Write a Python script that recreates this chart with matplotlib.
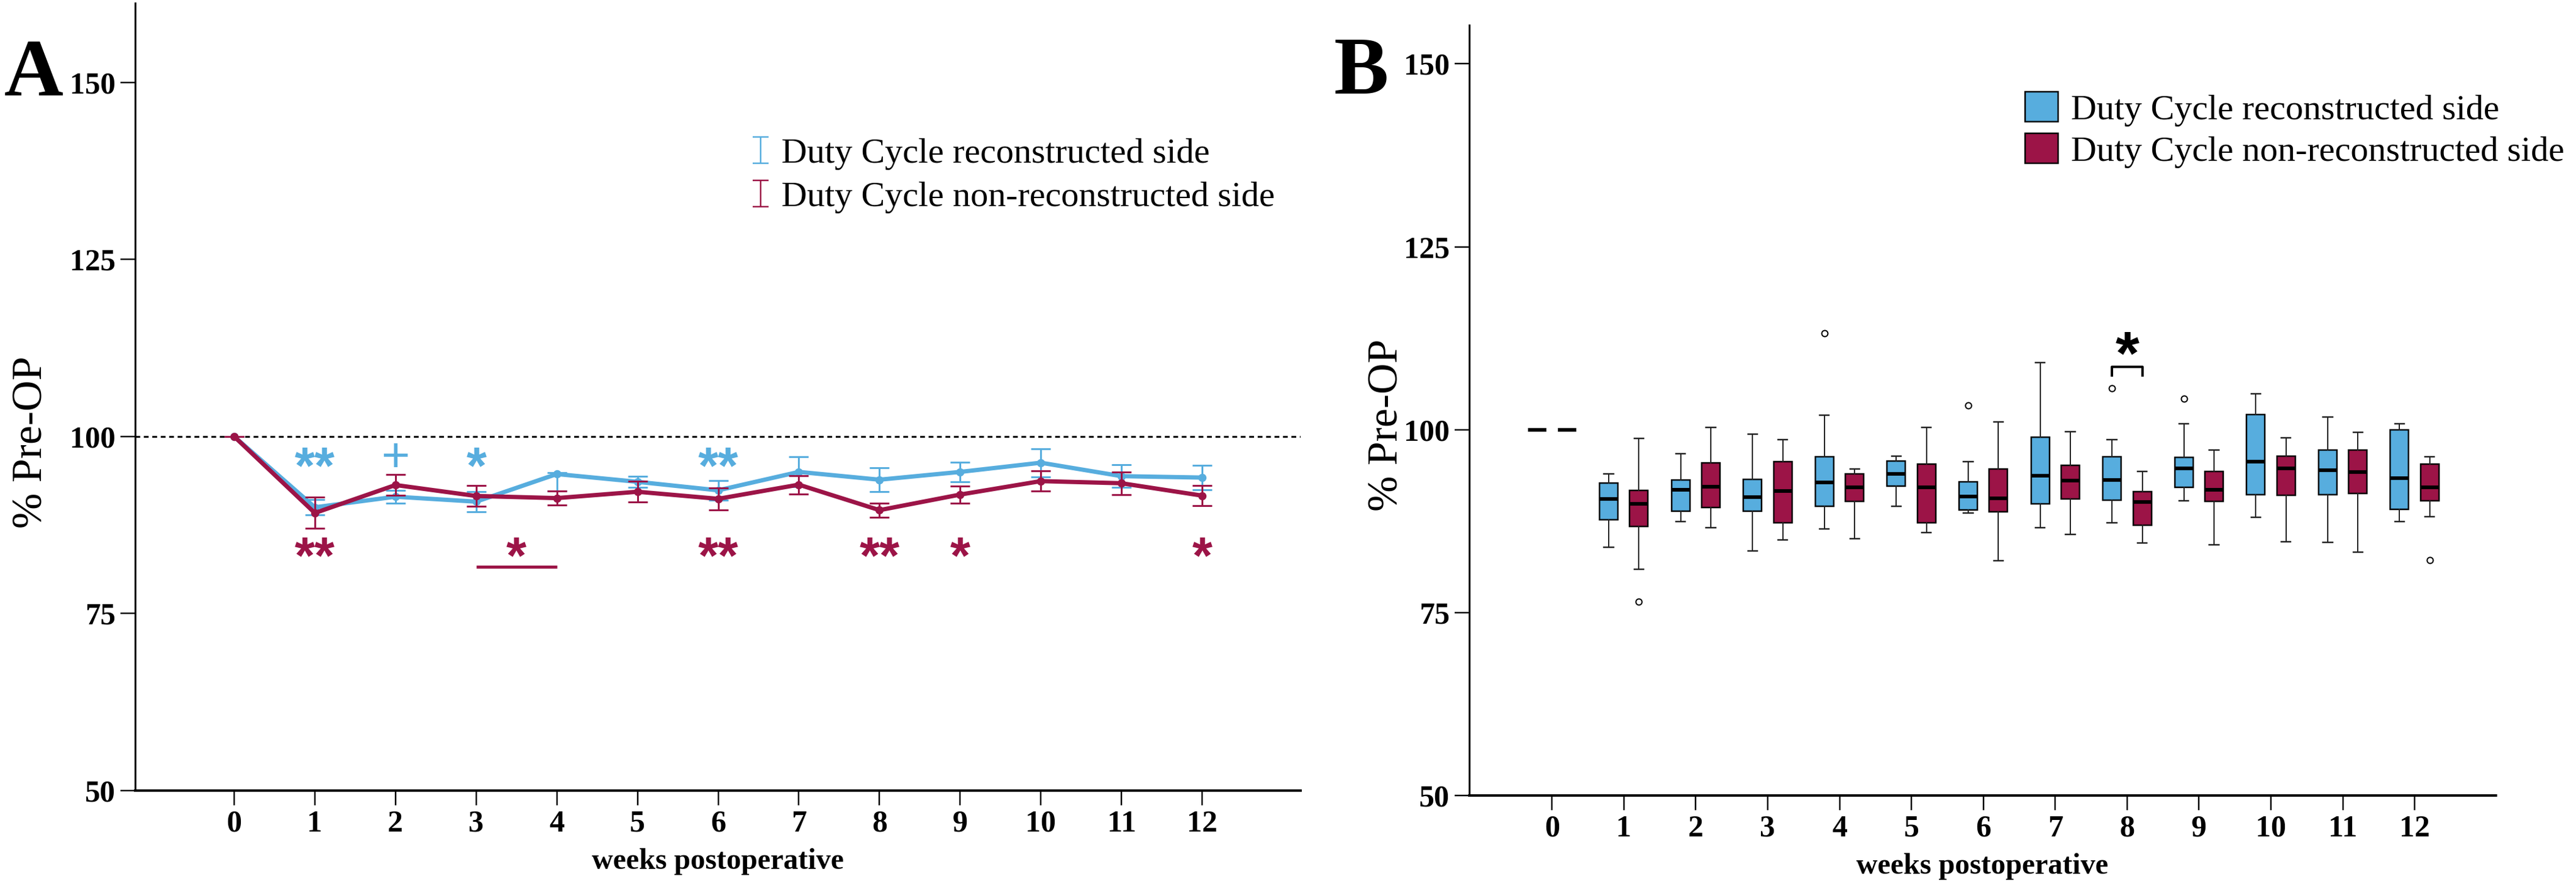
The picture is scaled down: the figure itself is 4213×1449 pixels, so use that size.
import numpy as np
import matplotlib
matplotlib.use("Agg")
import matplotlib.pyplot as plt
from matplotlib.patches import Patch
from matplotlib.container import ErrorbarContainer
from matplotlib.legend_handler import HandlerErrorbar

# --- data: panel A (mean +/- SE, % of pre-OP) ---
weeks = list(range(13))
recon_mean = [100, 90.0, 91.5, 90.8, 94.7, 93.6, 92.4, 95.0, 93.9, 95.0, 96.3, 94.4, 94.2]
recon_err_lo = [0, 1.1, 0.9, 1.4, 2.4, 0.8, 1.4, 2.1, 1.7, 1.4, 2.0, 1.6, 1.7]
recon_err_hi = [0, 1.1, 0.9, 1.4, 0.2, 0.8, 1.4, 2.1, 1.7, 1.4, 2.0, 1.6, 1.7]
nonrec_mean = [100, 89.2, 93.15, 91.6, 91.3, 92.2, 91.2, 93.2, 89.6, 91.8, 93.7, 93.4, 91.65]
nonrec_err = [0, 2.2, 1.45, 1.47, 1.0, 1.48, 1.55, 1.3, 1.0, 1.22, 1.42, 1.58, 1.4]

# significance marks: (week, text)
sig_recon = [(1, "**"), (2, "+"), (3, "*"), (6, "**")]
sig_nonrec = [(1, "**"), (3.5, "*"), (6, "**"), (8, "**"), (9, "*"), (12, "*")]
sig_bar_weeks = (3, 4)

# --- data: panel B (boxplot stats) ---
# columns: whislo, q1, med, q3, whishi
recon_box = [
    [100, 100, 100, 100, 100],
    [83.9, 87.7, 90.5, 92.7, 94.0],
    [87.4, 88.9, 91.8, 93.1, 96.7],
    [83.4, 88.9, 90.8, 93.2, 99.4],
    [86.4, 89.5, 92.8, 96.3, 102.0],
    [89.5, 92.3, 94.0, 95.7, 96.4],
    [88.6, 89.0, 90.9, 92.9, 95.6],
    [86.6, 89.9, 93.7, 99.0, 109.2],
    [87.3, 90.4, 93.1, 96.3, 98.6],
    [90.3, 92.1, 94.7, 96.2, 100.8],
    [88.0, 91.1, 95.6, 102.1, 104.9],
    [84.6, 91.1, 94.5, 97.2, 101.7],
    [87.4, 89.1, 93.4, 100.0, 100.8],
]
recon_fliers = [[], [], [], [], [113.2], [], [103.3], [], [105.7], [104.2], [], [], []]
nonrec_box = [
    [100, 100, 100, 100, 100],
    [80.9, 86.8, 89.9, 91.7, 98.8],
    [86.6, 89.4, 92.2, 95.5, 100.3],
    [84.9, 87.3, 91.6, 95.6, 98.6],
    [85.1, 90.2, 92.1, 94.0, 94.6],
    [85.9, 87.3, 92.1, 95.3, 100.3],
    [82.1, 88.8, 90.6, 94.6, 101.1],
    [85.7, 90.5, 93.0, 95.1, 99.7],
    [84.5, 86.9, 90.1, 91.5, 94.3],
    [84.3, 90.2, 91.8, 94.3, 97.2],
    [84.7, 91.0, 94.7, 96.4, 98.9],
    [83.3, 91.3, 94.2, 97.2, 99.6],
    [88.1, 90.3, 92.1, 95.3, 96.3],
]
nonrec_fliers = [[], [76.5], [], [], [], [], [], [], [], [], [], [], [82.2]]

labels = ["Duty Cycle reconstructed side", "Duty Cycle non-reconstructed side"]
blue = "#57ADDE"
red = "#9C1447"

W, H = 4213, 1449
DPI = 100
PX = 72 / DPI  # points per pixel

plt.rcParams["font.family"] = ["Liberation Serif", "DejaVu Serif"]


def fx(px):
    return px / W


def fy(py):
    return 1 - py / H


fig = plt.figure(figsize=(W / DPI, H / DPI), dpi=DPI)
fig.patch.set_facecolor("white")


def style_axes(ax, ylabel, ylabel_xy):
    for s in ["top", "right"]:
        ax.spines[s].set_visible(False)
    ax.spines["left"].set_linewidth(3 * PX)
    ax.spines["bottom"].set_linewidth(4 * PX)
    ax.set_xticks(weeks)
    ax.set_yticks([50, 75, 100, 125, 150])
    ax.tick_params(direction="out", length=24 * PX, width=2.5 * PX,
                   labelsize=50 * PX, pad=8 * PX)
    for t in ax.get_xticklabels() + ax.get_yticklabels():
        t.set_fontweight("bold")
    ax.set_xlabel("weeks postoperative", fontsize=48 * PX, fontweight="bold",
                  labelpad=16 * PX)
    ax.set_ylabel(ylabel, fontsize=70 * PX, va="center", ha="center")
    ax.yaxis.set_label_coords(*ylabel_xy)


# ================= Panel A =================
axA = fig.add_axes([fx(221), fy(1293), (2127 - 221) / W, (1293 - 5) / H])
axA.set_xlim(-1.228, 13.22)
axA.set_ylim(50, 161.2)
axA.axhline(100, color="black", lw=3 * PX, ls=(0, (2.6, 2.0)), zorder=1)

axA.errorbar(weeks, recon_mean, yerr=[recon_err_lo, recon_err_hi], color=blue,
             lw=7 * PX, marker="o", ms=12 * PX, elinewidth=3 * PX,
             capsize=16 * PX, capthick=3 * PX, zorder=3)
axA.errorbar(weeks, nonrec_mean, yerr=nonrec_err, color=red,
             lw=7 * PX, marker="o", ms=12 * PX, elinewidth=3 * PX,
             capsize=16 * PX, capthick=3 * PX, zorder=4)

for wk, s in sig_recon:
    if s == "+":
        axA.text(wk, 96.8, s, color=blue, ha="center", va="center",
                 fontsize=80 * PX, family=["Liberation Sans", "DejaVu Sans"])
    else:
        axA.text(wk, 95.3, s, color=blue, ha="center", va="center",
                 fontsize=85 * PX, fontweight="bold",
                 family=["Liberation Sans", "DejaVu Sans"])
for wk, s in sig_nonrec:
    axA.text(wk, 82.6, s, color=red, ha="center", va="center",
             fontsize=85 * PX, fontweight="bold",
             family=["Liberation Sans", "DejaVu Sans"])
axA.plot(sig_bar_weeks, [81.6, 81.6], color=red, lw=5 * PX, solid_capstyle="butt")

style_axes(axA, "% Pre-OP", (-0.0887, 0.4426))

# legend A: error-bar glyphs only
proxyA = [axA.errorbar([np.nan], [np.nan], yerr=[1], fmt="none", ecolor=c,
                       elinewidth=2.5 * PX, capsize=13.5 * PX, capthick=2.5 * PX)
          for c in (blue, red)]
axA.legend(proxyA, labels, loc="upper left",
           bbox_to_anchor=(fx(1227), fy(225)), bbox_transform=fig.transFigure,
           frameon=False, fontsize=58 * PX, borderpad=0, borderaxespad=0,
           handlelength=0.6, handletextpad=0.28, labelspacing=0.32,
           handler_map={ErrorbarContainer: HandlerErrorbar(xerr_size=0.37, yerr_size=0.37)})

# ================= Panel B =================
axB = fig.add_axes([fx(2403), fy(1301), (4082 - 2403) / W, (1301 - 41) / H])
axB.set_xlim(-1.15, 13.13)
axB.set_ylim(50, 155.3)


def to_stats(rows, fliers):
    out = []
    for r, f in zip(rows, fliers):
        out.append(dict(whislo=r[0], q1=r[1], med=r[2], q3=r[3], whishi=r[4], fliers=f))
    return out


off = 0.21
bw = 0.255
for rows, fl, color, sign in [(recon_box, recon_fliers, blue, -1),
                              (nonrec_box, nonrec_fliers, red, 1)]:
    axB.bxp(to_stats(rows, fl), positions=[w + sign * off for w in weeks],
            widths=bw, capwidths=0.13, patch_artist=True, manage_ticks=False,
            boxprops=dict(facecolor=color, edgecolor="black", linewidth=2.5 * PX),
            medianprops=dict(color="black", linewidth=6 * PX, solid_capstyle="butt"),
            whiskerprops=dict(color="#222222", linewidth=2 * PX),
            capprops=dict(color="#222222", linewidth=2.5 * PX),
            flierprops=dict(marker="o", markerfacecolor="none", markeredgecolor="black",
                            markersize=10 * PX, markeredgewidth=2 * PX))

# significance bracket at week 8
axB.plot([8 - off, 8 - off, 8 + off, 8 + off], [107.4, 108.6, 108.6, 107.4],
         color="black", lw=4 * PX)
axB.text(8, 109.8, "*", ha="center", va="center", fontsize=100 * PX,
         fontweight="bold", family=["Liberation Sans", "DejaVu Sans"])

style_axes(axB, "% Pre-OP", (-0.080, 0.481))

handlesB = [Patch(facecolor=c, edgecolor="black", linewidth=2.5 * PX) for c in (blue, red)]
axB.legend(handlesB, labels, loc="upper left",
           bbox_to_anchor=(fx(3312), fy(150)), bbox_transform=fig.transFigure,
           frameon=False, fontsize=58 * PX, borderpad=0, borderaxespad=0,
           handlelength=0.93, handleheight=0.93, handletextpad=0.36, labelspacing=0.2)

# panel letters
fig.text(fx(7), fy(156), "A", ha="left", va="baseline", fontsize=134 * PX, fontweight="bold")
fig.text(fx(2182), fy(153), "B", ha="left", va="baseline", fontsize=134 * PX, fontweight="bold")

fig.savefig("out.png", dpi=DPI)
